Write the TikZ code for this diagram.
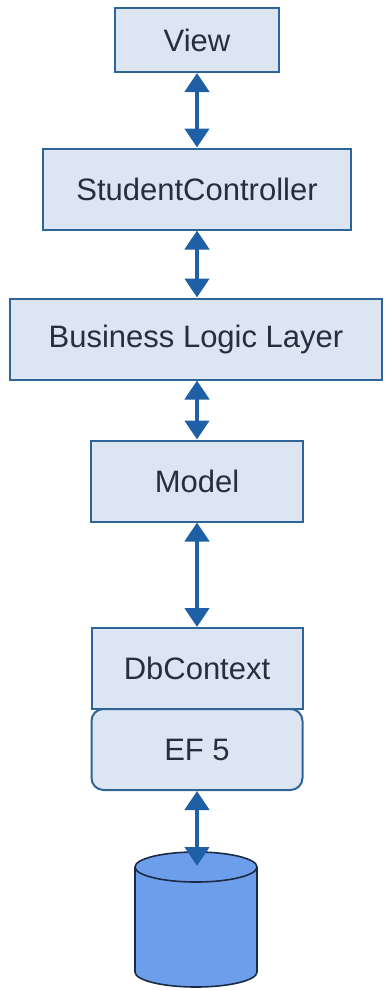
\documentclass[tikz,border=0pt]{standalone}
\usepackage{fontspec}
\setmainfont{Liberation Sans}
\usetikzlibrary{arrows.meta}
\definecolor{boxfill}{HTML}{DCE6F2}
\definecolor{boxline}{HTML}{2F6497}
\definecolor{linkblue}{HTML}{1E5FA6}
\definecolor{dbfill}{HTML}{6D9EEB}
\definecolor{dbline}{HTML}{1B2A45}
\definecolor{txt}{HTML}{26303C}

\tikzset{
  layer/.style={draw=boxline, fill=boxfill, line width=2pt, text=txt,
    font=\fontsize{31}{36}\selectfont, inner sep=0pt, minimum height=81pt},
  link/.style={>={Triangle[width=24pt,length=19pt]}, <->,
    line width=4.5pt, draw=linkblue},
}

\begin{document}
\begin{tikzpicture}[x=1pt,y=-1pt]
        \useasboundingbox (0,0) rectangle (385,990);
        % layers, top to bottom
        \node[layer, minimum width=164pt, minimum height=64pt] (view) at (197,40) {View};
        \node[layer, minimum width=308pt] (ctrl) at (197,189) {StudentController};
        \node[layer, minimum width=372pt] (bll) at (196,339) {Business Logic Layer};
        \node[layer, minimum width=212pt] (model) at (197,481) {Model};
        % EF first, so the DbContext edge sits on top
        \node[layer, minimum width=211pt, rounded corners=12pt] (ef) at (197,749.5) {EF 5};
        \node[layer, minimum width=211pt] (dbctx) at (197,668.5) {DbContext};
        % database
        \fill[dbfill] (135,867) -- (135,972) arc[start angle=180, end angle=0, x radius=61, y radius=15] -- (257,867) -- cycle;
        \draw[dbline, line width=1.6pt] (135,867) -- (135,972) arc[start angle=180, end angle=0, x radius=61, y radius=15] -- (257,867);
        \draw[dbline, fill=dbfill, line width=1.6pt] (196,867) ellipse[x radius=61, y radius=15];
        \coordinate (dbtop) at (197,866);
        % connectors
        \draw[link] (view.south) -- (ctrl.north);
        \draw[link] (ctrl.south) -- (bll.north -| ctrl.south);
        \draw[link] (bll.south -| ctrl.south) -- (model.north);
        \draw[link] (model.south) -- (dbctx.north);
        \draw[link] (ef.south) -- (dbtop);
\end{tikzpicture}
\end{document}
